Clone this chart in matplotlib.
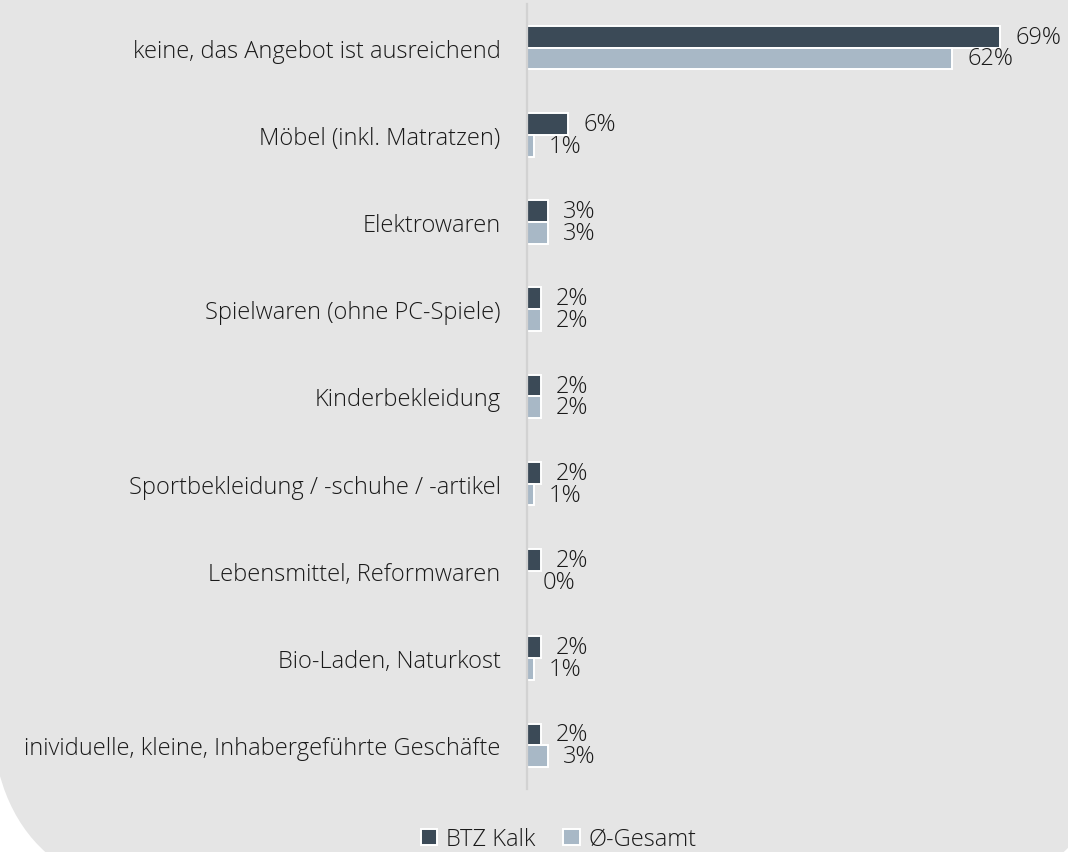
import numpy as np
import matplotlib.pyplot as plt
from matplotlib.patches import FancyBboxPatch, Patch

categories = [
    "keine, das Angebot ist ausreichend",
    "Möbel (inkl. Matratzen)",
    "Elektrowaren",
    "Spielwaren (ohne PC-Spiele)",
    "Kinderbekleidung",
    "Sportbekleidung / -schuhe / -artikel",
    "Lebensmittel, Reformwaren",
    "Bio-Laden, Naturkost",
    "inividuelle, kleine, Inhabergeführte Geschäfte",
]
btz_kalk = [69, 6, 3, 2, 2, 2, 2, 2, 2]
gesamt = [62, 1, 3, 2, 2, 1, 0, 1, 3]
series_names = ["BTZ Kalk", "Ø-Gesamt"]

dark = "#3b4a57"
light = "#a8b8c6"
bg = "#e5e5e5"
txt = "#1a1a1a"

plt.rcParams['font.family'] = ['Open Sans', 'DejaVu Sans']
plt.rcParams['font.weight'] = 'light'

fig = plt.figure(figsize=(10.68, 8.53), dpi=100)
fig.patch.set_facecolor("white")

# rounded grey panel behind everything, in pixel units
bg_ax = fig.add_axes([0, 0, 1, 1], zorder=-1)
bg_ax.set_xlim(0, 1068)
bg_ax.set_ylim(853, 0)
bg_ax.axis("off")
bg_ax.add_patch(FancyBboxPatch((-10, -232), 1129, 1130,
                               boxstyle="round,pad=0,rounding_size=200",
                               facecolor=bg, edgecolor="none"))

ax = fig.add_axes([0.4934, 0.0739, 0.49, 0.9203])
ax.set_facecolor("none")

y = np.arange(len(categories))
h = 0.25
ax.barh(y - h / 2, btz_kalk, height=h, color=dark, edgecolor="white", linewidth=1.4)
ax.barh(y + h / 2, gesamt, height=h, color=light, edgecolor="white", linewidth=1.4)

for yi, v in zip(y, btz_kalk):
    ax.annotate(f"{v}%", (v, yi - h / 2), xytext=(11, 0), textcoords="offset points",
                va="center", ha="left", fontsize=17, color=txt)
for yi, v in zip(y, gesamt):
    ax.annotate(f"{v}%", (v, yi + h / 2), xytext=(11, 0), textcoords="offset points",
                va="center", ha="left", fontsize=17, color=txt)

ax.set_xlim(0, 76.3)
ax.set_ylim(len(categories) - 0.5, -0.5)
ax.set_yticks(y)
ax.set_yticklabels(categories, fontsize=17, color=txt)
ax.tick_params(axis="y", length=0, pad=19)
ax.set_xticks([])
for s in ["top", "right", "bottom"]:
    ax.spines[s].set_visible(False)
ax.spines["left"].set_color("#d2d2d2")
ax.spines["left"].set_linewidth(1.6)

handles = [Patch(facecolor=dark, edgecolor="white", linewidth=1.4),
           Patch(facecolor=light, edgecolor="white", linewidth=1.4)]
fig.legend(handles, series_names, loc="lower center", bbox_to_anchor=(0.523, -0.024),
           ncol=2, frameon=False, fontsize=17, handlelength=0.7, handleheight=0.7,
           handletextpad=0.35, columnspacing=1.2, labelcolor=txt)

fig.savefig("out.png", dpi=100)
